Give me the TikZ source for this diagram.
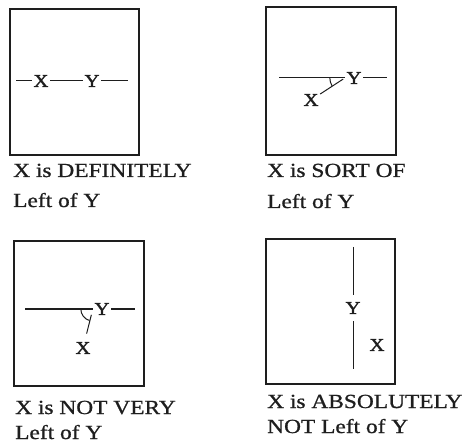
\documentclass[tikz,border=0pt]{standalone}
\usepackage{fontspec}
\setmainfont{Liberation Serif}
\newfontfamily\capfont[FakeStretch=1.17, FakeBold=0.9]{Liberation Serif}
\newfontfamily\lblfont[FakeStretch=1.15, FakeBold=1.6]{Liberation Serif}
\usetikzlibrary{calc}
\definecolor{inkgray}{RGB}{30, 30, 30}
\tikzset{
  frame/.style   = {rectangle, draw=inkgray, line width=1.1pt, inner sep=0pt},
  lbl/.style     = {inner sep=1.5pt, font=\lblfont\fontsize{18}{18}\selectfont, text=inkgray},
  caption/.style = {anchor=base west, inner sep=0pt, font=\capfont\fontsize{20}{20}\selectfont, text=inkgray},
  seg/.style     = {draw=inkgray, line width=1pt},
}

\begin{document}
\begin{tikzpicture}[x=1pt, y=1pt]
\useasboundingbox (0,0) rectangle (468,-443);

% Feld 1: eindeutig links
\node[frame, minimum width=129pt, minimum height=146pt] (box1) at (74.5,-82) {};
\node[lbl] (x1) at (41,-81) {X};
\node[lbl] (y1) at (92,-81) {Y};
\coordinate (l1) at (16,-81);
\coordinate (r1) at (128,-81);
\draw[seg] (l1) -- (x1);
\draw[seg] (x1) -- (y1);
\draw[seg] (y1) -- (r1);
\node[caption] (c1a) at (13,-177) {X is DEFINITELY};
\node[caption] (c1b) at (13,-207) {Left of Y};

% Feld 2: etwas links
\node[frame, minimum width=130pt, minimum height=148pt] (box2) at (331,-81) {};
\node[lbl] (y2) at (354,-78) {Y};
\node[lbl] (x2) at (311,-100) {X};
\coordinate (l2) at (279,-78);
\coordinate (r2) at (387,-78);
\draw[seg] (l2) -- (y2);
\draw[seg] (y2) -- (r2);
\draw[seg, shorten >=2pt] (x2) -- (y2.west);
\draw[seg] ($(y2.west)+(180:15)$) arc[start angle=180, end angle=212, radius=15];
\node[caption] (c2a) at (267,-177) {X is SORT OF};
\node[caption] (c2b) at (267,-208) {Left of Y};

% Feld 3: kaum links
\node[frame, minimum width=130pt, minimum height=145pt] (box3) at (79,-313.5) {};
\node[lbl] (y3) at (102,-309) {Y};
\node[lbl] (x3) at (83,-348) {X};
\coordinate (l3) at (25,-309);
\coordinate (r3) at (135,-309);
\draw[seg] (l3) -- (y3);
\draw[seg] (y3) -- (r3);
\draw[seg, shorten <=7pt, shorten >=6pt] (x3) -- (y3.west);
\draw[seg] ($(y3.west)+(180:12)$) arc[start angle=180, end angle=254, radius=12];
\node[caption] (c3a) at (15,-414) {X is NOT VERY};
\node[caption] (c3b) at (15,-439) {Left of Y};

% Feld 4: gar nicht links
\node[frame, minimum width=129pt, minimum height=145pt] (box4) at (330.5,-311.5) {};
\node[lbl, inner ysep=7pt] (y4) at (353,-308) {Y};
\node[lbl] (x4) at (377,-345) {X};
\coordinate (t4) at (353,-247);
\coordinate (b4) at (353,-369);
\draw[seg] (t4) -- (y4);
\draw[seg] (y4) -- (b4);
\node[caption] (c4a) at (267,-408) {X is ABSOLUTELY};
\node[caption] (c4b) at (267,-433) {NOT Left of Y};

\end{tikzpicture}
\end{document}
